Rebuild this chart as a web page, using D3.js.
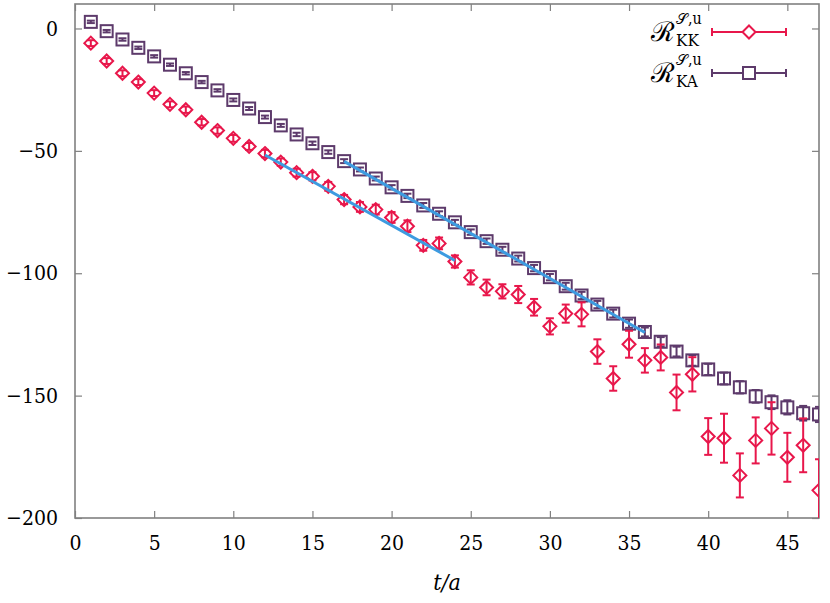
<!DOCTYPE html>
<html><head><meta charset="utf-8">
<script src="https://cdn.jsdelivr.net/npm/d3@7"></script>
<style>
body{margin:0;background:#fff;}
svg text{font-family:"DejaVu Serif Condensed","DejaVu Serif",serif !important;fill:#000;}
svg text.scr{font-family:"DejaVu Serif",serif !important;}
</style></head>
<body><svg id="c" width="830" height="603"></svg>
<script>
const tValues = d3.range(1, 48);
const kkValues = [-6,-13.3,-18.3,-21.9,-26.4,-31,-33.2,-38.3,-41.7,-44.9,-48.2,-51.1,-54.6,-58.9,-60.4,-64.5,-69.9,-72.9,-74,-77.2,-80.8,-88.6,-87.8,-95.2,-101.7,-105.8,-107.4,-108.7,-113.9,-121.7,-116.5,-116.8,-132,-143,-129,-135.6,-134.4,-148.7,-141.3,-166.7,-167.4,-182.6,-168.3,-163.4,-175.2,-170.3,-188.7];
const kkErrors = [1.2,1.2,1.2,1.2,1.2,1.2,1.3,1.3,1.3,1.4,1.4,1.5,1.5,1.6,1.7,1.8,1.9,2,2,2.2,2.4,2.2,2.4,2.5,2.9,3.2,2.9,3.5,3.4,3.3,3.7,4.9,5,5,5.5,5,5.3,7.3,7,7.5,10,9,9.4,10.7,10,11,12.7];
const kaValues = [2.7,-1.1,-4.5,-7.9,-11.4,-14.8,-18.3,-21.9,-25.3,-29.2,-32.7,-36.2,-39.6,-43.3,-46.9,-50.5,-54.2,-57.6,-61.3,-64.9,-68.4,-72.3,-75.7,-79.2,-83.2,-86.9,-90.4,-94,-97.9,-101.6,-105.3,-109.1,-112.8,-116.5,-120.6,-124,-128,-132,-135.6,-139.3,-143,-146.6,-150.3,-152.7,-154.8,-157.2,-157.7];
const kaErrors = [0.5,0.5,0.5,0.5,0.5,0.5,0.5,0.5,0.5,0.6,0.6,0.6,0.6,0.7,0.7,0.7,0.8,0.8,0.8,0.9,0.9,1,1,1,1.1,1.1,1.2,1.2,1.3,1.3,1.4,1.5,1.5,1.6,1.7,1.8,1.9,2,2.2,2.3,2.4,2.5,2.6,2.8,2.9,3,3.1];
const fit1T = [12, 24], fit1V = [-51.7, -94.8];
const fit2T = [17, 36], fit2V = [-54.3, -124.2];
const xTicks = [0,5,10,15,20,25,30,35,40,45];
const yTicks = [0,-50,-100,-150,-200];
const legendSubs = ["KK","KA"];

const red = "#e8174b", purple = "#5d3a6b", blue = "#3d9be0", grey = "#808080";
const svg = d3.select("#c");
const L = 75, R = 819, T = 4, B = 518;
const x = d3.scaleLinear().domain([0,47]).range([L,R]);
const y = d3.scaleLinear().domain([-200,10]).range([B,T]);

svg.append("defs").append("clipPath").attr("id","clip")
  .append("rect").attr("x",L).attr("y",T).attr("width",R-L).attr("height",B-T);

const fmt = d => d < 0 ? "\u2212" + Math.abs(d) : String(d);
const ax = (g, axis) => { g.call(axis); g.select(".domain").remove(); g.selectAll("line").attr("stroke",grey).attr("stroke-width",1.2); };
svg.append("g").attr("transform",`translate(0,${B})`).call(g=>ax(g,d3.axisBottom(x).tickValues(xTicks).tickSize(-7).tickPadding(17).tickFormat(fmt)));
svg.append("g").attr("transform",`translate(0,${T})`).call(g=>ax(g,d3.axisTop(x).tickValues(xTicks).tickSize(-7).tickFormat("")));
svg.append("g").attr("transform",`translate(${L},0)`).call(g=>ax(g,d3.axisLeft(y).tickValues(yTicks).tickSize(-7).tickPadding(17).tickFormat(fmt)));
svg.append("g").attr("transform",`translate(${R},0)`).call(g=>ax(g,d3.axisRight(y).tickValues(yTicks).tickSize(-7).tickFormat("")));
svg.selectAll(".tick text").attr("font-size",21).attr("fill","#000");
svg.append("rect").attr("x",L).attr("y",T).attr("width",R-L).attr("height",B-T)
  .attr("fill","none").attr("stroke",grey).attr("stroke-width",1.6);

const plot = svg.append("g").attr("clip-path","url(#clip)");

function series(vals, errs, color, shape, cap) {
  const g = plot.append("g").attr("stroke",color).attr("fill","none").attr("stroke-width",2);
  vals.forEach((v,i) => {
    const cx = x(tValues[i]), cy = y(v), e1 = y(v+errs[i]), e2 = y(v-errs[i]);
    g.append("line").attr("x1",cx).attr("x2",cx).attr("y1",e1).attr("y2",e2);
    g.append("line").attr("x1",cx-cap).attr("x2",cx+cap).attr("y1",e1).attr("y2",e1);
    g.append("line").attr("x1",cx-cap).attr("x2",cx+cap).attr("y1",e2).attr("y2",e2);
    if (shape === "d") g.append("path").attr("d",`M${cx},${cy-6.5}L${cx+6.5},${cy}L${cx},${cy+6.5}L${cx-6.5},${cy}Z`);
    else g.append("rect").attr("x",cx-6).attr("y",cy-6).attr("width",12).attr("height",12);
  });
}
series(kaValues, kaErrors, purple, "s", 4);
series(kkValues, kkErrors, red, "d", 4);

const line = d3.line().x(d=>x(d[0])).y(d=>y(d[1]));
[[fit1T,fit1V],[fit2T,fit2V]].forEach(([ts,vs]) =>
  plot.append("path").attr("d",line(d3.zip(ts,vs))).attr("stroke",blue).attr("stroke-width",3).attr("fill","none"));

// legend
const leg = [{sub:legendSubs[0],color:red,shape:"d",yy:32},{sub:legendSubs[1],color:purple,shape:"s",yy:73}];
leg.forEach(l => {
  svg.append("text").attr("class","scr").attr("x",675).attr("y",l.yy+9).attr("text-anchor","end").attr("font-size",27).text("\u211B");
  svg.append("text").attr("class","scr").attr("x",676).attr("y",l.yy-8).attr("font-size",15).text("\uD835\uDCAE");
  svg.append("text").attr("x",688).attr("y",l.yy-8).attr("font-size",16).text(",u");
  svg.append("text").attr("x",676).attr("y",l.yy+14).attr("font-size",17).text(l.sub);
  const g = svg.append("g").attr("stroke",l.color).attr("fill","none").attr("stroke-width",2);
  g.append("line").attr("x1",712).attr("x2",786).attr("y1",l.yy).attr("y2",l.yy);
  g.append("line").attr("x1",712).attr("x2",712).attr("y1",l.yy-4).attr("y2",l.yy+4);
  g.append("line").attr("x1",786).attr("x2",786).attr("y1",l.yy-4).attr("y2",l.yy+4);
  if (l.shape==="d") g.append("path").attr("d",`M749,${l.yy-6.5}L755.5,${l.yy}L749,${l.yy+6.5}L742.5,${l.yy}Z`).attr("fill","#fff");
  else g.append("rect").attr("x",743).attr("y",l.yy-6).attr("width",12).attr("height",12).attr("fill","#fff");
});

svg.append("text").attr("x",447).attr("y",590).attr("text-anchor","middle").attr("font-size",23).attr("font-style","italic").text("t/a");
</script></body></html>
